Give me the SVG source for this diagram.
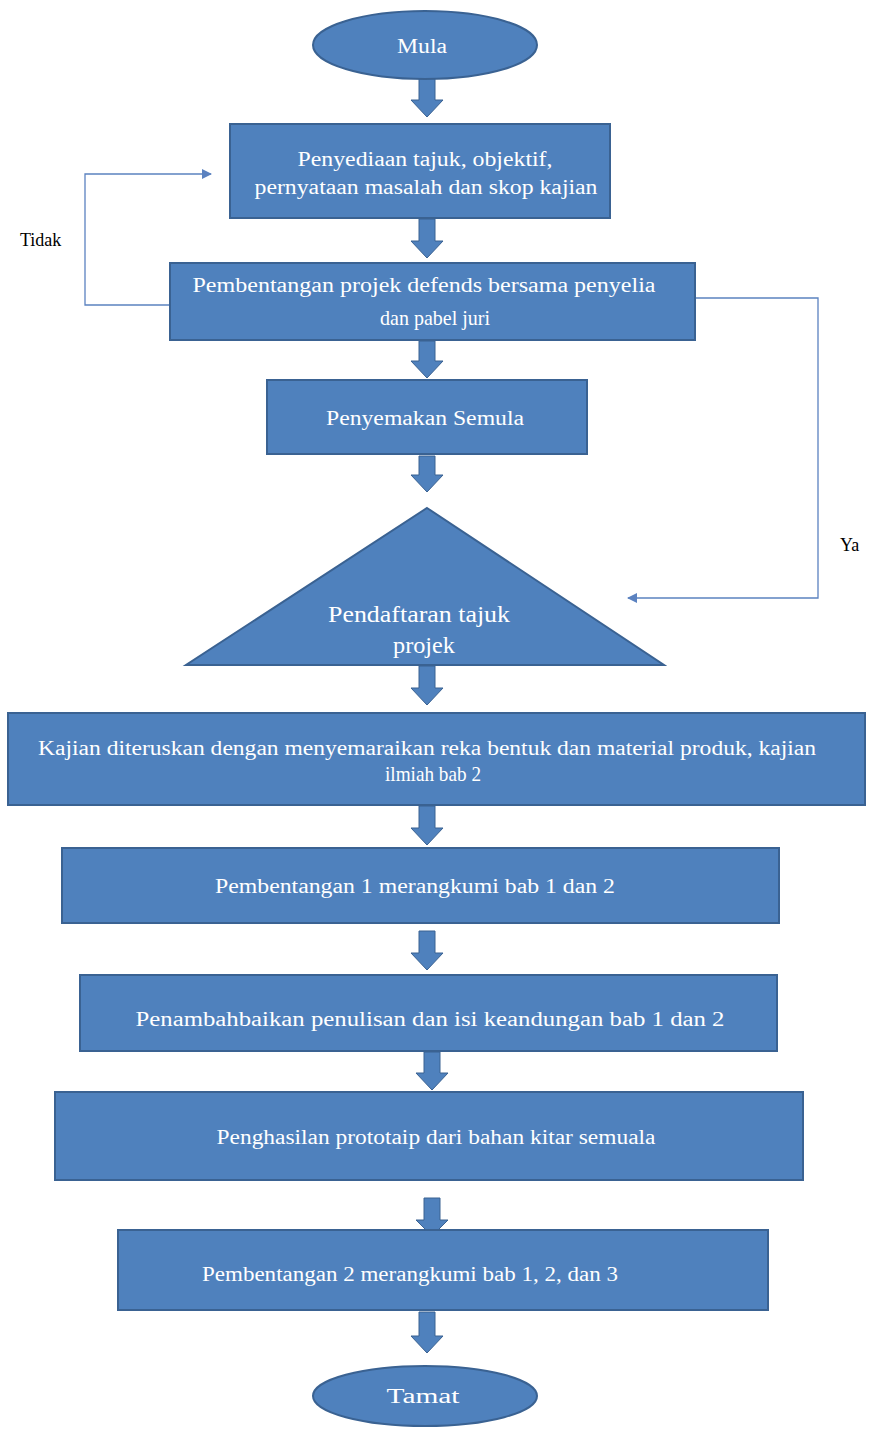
<svg xmlns="http://www.w3.org/2000/svg" width="872" height="1429" viewBox="0 0 872 1429">
<style>
.shape{fill:#4f81bd;stroke:#3a6292;stroke-width:2}
.barrow{fill:#4f81bd;stroke:#3a6292;stroke-width:1}
.t{font-family:'Liberation Serif','DejaVu Serif',serif;font-size:20px;fill:#ffffff;text-anchor:middle}
.lbl{font-family:'Liberation Serif','DejaVu Serif',serif;font-size:18px;fill:#000000}
.line{fill:none;stroke:#5b82c0;stroke-width:1.3}
</style>
<defs>
<marker id="ah" markerWidth="10" markerHeight="10" refX="9" refY="5" orient="auto" markerUnits="userSpaceOnUse">
<path d="M0,0 L10,5 L0,10 Z" fill="#5b82c0"/>
</marker>
</defs>
<rect width="872" height="1429" fill="#ffffff"/>

<g id="connectors">
<path class="barrow" d="M419,78 H435 V100 H443 L427,117 L411,100 H419 Z"/>
<path class="barrow" d="M419,219 H435 V241 H443 L427,258 L411,241 H419 Z"/>
<path class="barrow" d="M419,341 H435 V361 H443 L427,378 L411,361 H419 Z"/>
<path class="barrow" d="M419,456 H435 V475 H443 L427,492 L411,475 H419 Z"/>
<path class="barrow" d="M419,666 H435 V688 H443 L427,705 L411,688 H419 Z"/>
<path class="barrow" d="M419,806 H435 V828 H443 L427,845 L411,828 H419 Z"/>
<path class="barrow" d="M419,931 H435 V953 H443 L427,970 L411,953 H419 Z"/>
<path class="barrow" d="M424,1052 H440 V1073 H448 L432,1090 L416,1073 H424 Z"/>
<path class="barrow" d="M424,1198 H440 V1220 H448 L432,1236 L416,1220 H424 Z"/>
<path class="barrow" d="M419,1312 H435 V1336 H443 L427,1353 L411,1336 H419 Z"/>
<path class="line" d="M170,305 H85 V174 H211" marker-end="url(#ah)"/>
<path class="line" d="M695,298 H818 V598 H628" marker-end="url(#ah)"/>
<text class="lbl" x="20" y="246">Tidak</text>
<text class="lbl" x="840" y="551">Ya</text>
</g>

<g id="mula">
<ellipse class="shape" cx="425" cy="45" rx="112" ry="34"/>
<text class="t" x="422" y="53" textLength="50" lengthAdjust="spacingAndGlyphs">Mula</text>
</g>

<g id="box1">
<rect class="shape" x="230" y="124" width="380" height="94"/>
<text class="t" x="425" y="166" textLength="255" lengthAdjust="spacingAndGlyphs">Penyediaan tajuk, objektif,</text>
<text class="t" x="426" y="194" textLength="343" lengthAdjust="spacingAndGlyphs">pernyataan masalah dan skop kajian</text>
</g>

<g id="box2">
<rect class="shape" x="170" y="263" width="525" height="77"/>
<text class="t" x="424" y="292" textLength="463" lengthAdjust="spacingAndGlyphs">Pembentangan projek defends bersama penyelia</text>
<text class="t" x="435" y="325" style="font-size:21px" textLength="110" lengthAdjust="spacingAndGlyphs">dan pabel juri</text>
</g>

<g id="box3">
<rect class="shape" x="267" y="380" width="320" height="74"/>
<text class="t" x="425" y="425" textLength="198" lengthAdjust="spacingAndGlyphs">Penyemakan Semula</text>
</g>

<g id="decision">
<polygon class="shape" points="427,508 664,665 186,665"/>
<text class="t" x="419" y="622" style="font-size:23px" textLength="182" lengthAdjust="spacingAndGlyphs">Pendaftaran tajuk</text>
<text class="t" x="424" y="653" style="font-size:23px" textLength="62" lengthAdjust="spacingAndGlyphs">projek</text>
</g>

<g id="box4">
<rect class="shape" x="8" y="713" width="857" height="92"/>
<text class="t" x="427" y="755" textLength="778" lengthAdjust="spacingAndGlyphs">Kajian diteruskan dengan menyemaraikan reka bentuk dan material produk, kajian</text>
<text class="t" x="433" y="781" style="font-size:21px" textLength="96" lengthAdjust="spacingAndGlyphs">ilmiah bab 2</text>
</g>

<g id="box5">
<rect class="shape" x="62" y="848" width="717" height="75"/>
<text class="t" x="415" y="893" textLength="400" lengthAdjust="spacingAndGlyphs">Pembentangan 1 merangkumi bab 1 dan 2</text>
</g>

<g id="box6">
<rect class="shape" x="80" y="975" width="697" height="76"/>
<text class="t" x="430" y="1026" textLength="589" lengthAdjust="spacingAndGlyphs">Penambahbaikan penulisan dan isi keandungan bab 1 dan 2</text>
</g>

<g id="box7">
<rect class="shape" x="55" y="1092" width="748" height="88"/>
<text class="t" x="436" y="1144" textLength="439" lengthAdjust="spacingAndGlyphs">Penghasilan prototaip dari bahan kitar semuala</text>
</g>

<g id="box8">
<rect class="shape" x="118" y="1230" width="650" height="80"/>
<text class="t" x="410" y="1281" textLength="416" lengthAdjust="spacingAndGlyphs">Pembentangan 2 merangkumi bab 1, 2, dan 3</text>
</g>

<g id="tamat">
<ellipse class="shape" cx="425" cy="1396" rx="112" ry="30"/>
<text class="t" x="423" y="1403" textLength="73" lengthAdjust="spacingAndGlyphs">Tamat</text>
</g>
</svg>
